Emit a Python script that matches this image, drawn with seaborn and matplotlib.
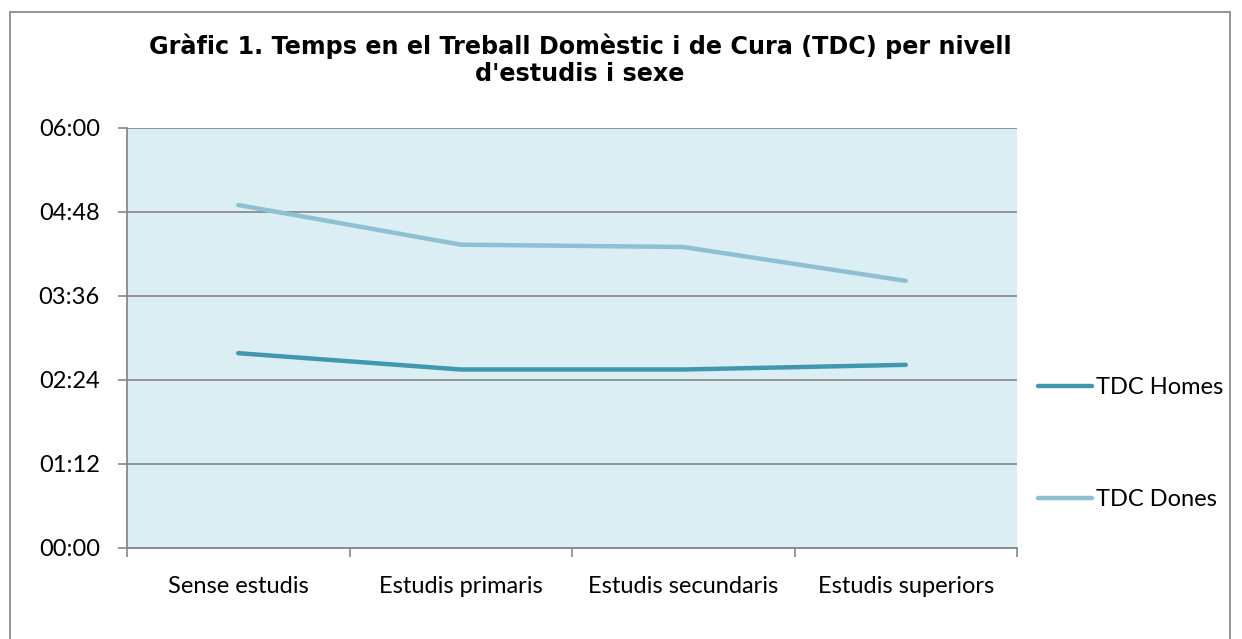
import matplotlib
matplotlib.use("Agg")
import matplotlib.pyplot as plt
import matplotlib.ticker as mticker
from matplotlib.patches import Rectangle
import numpy as np
import pandas as pd
import seaborn as sns

# data (minutes per day)
categories = ["Sense estudis", "Estudis primaris", "Estudis secundaris", "Estudis superiors"]
homes_min = [167, 153, 153, 157]
dones_min = [294, 260, 258, 229]
series_names = ["TDC Homes", "TDC Dones"]
y_ticks_min = [0, 72, 144, 216, 288, 360]

df = pd.DataFrame({
    "nivell": categories * 2,
    "minuts": homes_min + dones_min,
    "serie": [series_names[0]] * 4 + [series_names[1]] * 4,
})

sns.set_theme(style="white")
plt.rcParams["font.family"] = ["Lato", "DejaVu Sans"]
plt.rcParams["text.color"] = "black"
plt.rcParams["xtick.color"] = "black"
plt.rcParams["ytick.color"] = "black"

fig = plt.figure(figsize=(12.42, 6.39), dpi=100)
ax = fig.add_axes([127 / 1242, 1 - 548 / 639, (1017 - 127) / 1242, (548 - 128) / 639])

palette = {"TDC Homes": "#4097AF", "TDC Dones": "#8DC0D3"}
sns.lineplot(data=df, x="nivell", y="minuts", hue="serie", palette=palette,
             linewidth=3.2, sort=False, ax=ax, legend=False,
             solid_capstyle="round", solid_joinstyle="round")

ax.set_facecolor("#DBEEF3")
ax.set_xlim(-0.5, 3.5)
ax.set_ylim(0, 360)
ax.set_yticks(y_ticks_min)
ax.yaxis.set_major_formatter(mticker.FuncFormatter(lambda v, p: f"{int(v) // 60:02d}:{int(v) % 60:02d}"))
ax.grid(axis="y", color="#8c8c8c", linewidth=1.3)
ax.set_axisbelow(True)
ax.set_xlabel("")
ax.set_ylabel("")

# category boundaries as tick marks
ax.set_xticks(np.arange(-0.5, 4.0, 1.0), minor=True)
ax.tick_params(axis="x", which="major", bottom=True, length=0, pad=20, labelsize=17)
ax.tick_params(axis="x", which="minor", bottom=True, length=6.5, width=1.2,
               color="#888888", direction="out")
ax.tick_params(axis="y", which="major", left=True, length=6.5, width=1.2, color="#888888",
               direction="out", labelsize=17, pad=13)

for side in ["top", "right"]:
    ax.spines[side].set_visible(False)
for side in ["left", "bottom"]:
    ax.spines[side].set_color("#888888")
    ax.spines[side].set_linewidth(1.3)

# legend
handles = [plt.Line2D([], [], color=palette[s], linewidth=3.2, solid_capstyle="round") for s in series_names]
fig.legend(handles, series_names, loc="upper left", bbox_to_anchor=(1029 / 1242, 1 - 368 / 639),
           frameon=False, fontsize=17, handlelength=2.25, handletextpad=0.2, labelspacing=3.85,
           borderaxespad=0)

fig.text(580 / 1242, 1 - 60 / 639, "Gràfic 1. Temps en el Treball Domèstic i de Cura (TDC) per nivell\nd'estudis i sexe",
         ha="center", va="center", fontsize=17.2, fontweight="bold", family="DejaVu Sans",
         linespacing=1.15, color="black")

# outer chart frame
fig.patches.append(Rectangle((10 / 1242, -0.1), 1220 / 1242, 1 - 12 / 639 + 0.1,
                             transform=fig.transFigure, fill=False, edgecolor="#8c8c8c",
                             linewidth=1.3))

fig.savefig("out.png", dpi=100)
